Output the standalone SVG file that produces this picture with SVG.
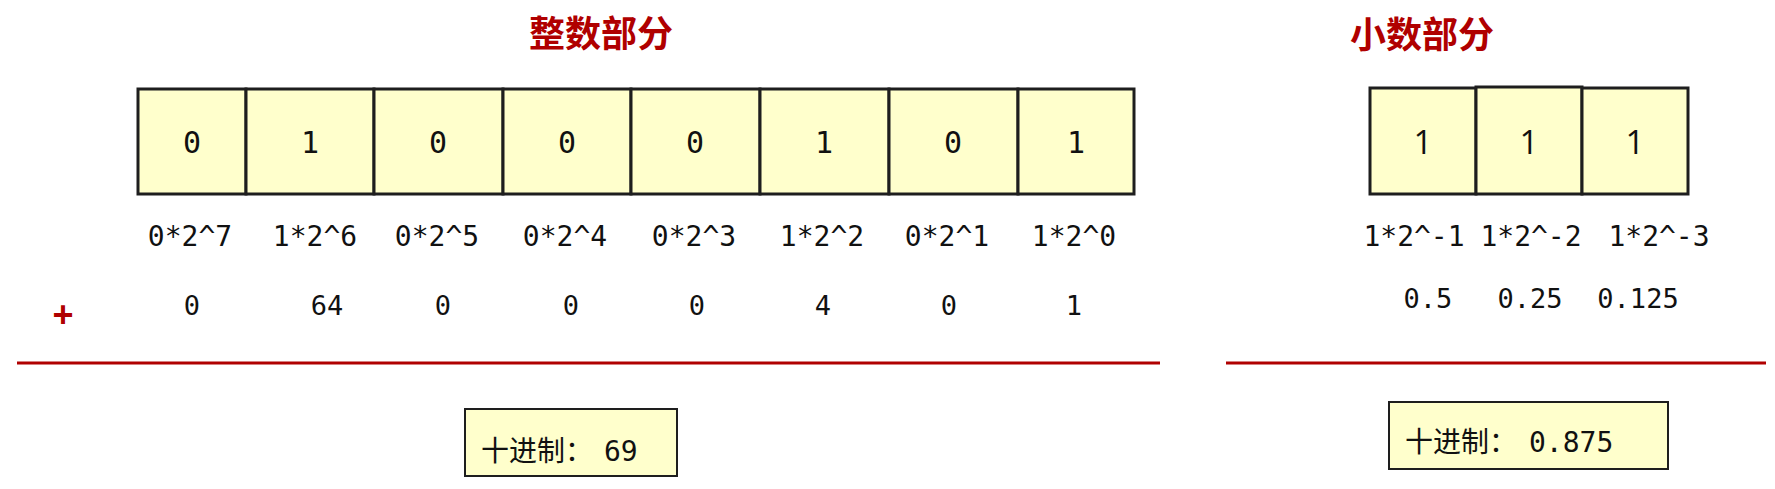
<svg xmlns="http://www.w3.org/2000/svg" width="1775" height="489" viewBox="0 0 1775 489">
<style>
.cell{fill:#FFFFCC;stroke:#1e1e1e;stroke-width:3}
.res{fill:#FFFFCC;stroke:#1e1e1e;stroke-width:2}
.bit{font-family:"DejaVu Sans Mono",monospace;font-size:30px;fill:#111;text-anchor:middle}
.fbit{font-family:"Open Sans","Liberation Sans",sans-serif;font-size:33px;fill:#111;text-anchor:middle}
.lbl{font-family:"DejaVu Sans Mono",monospace;font-size:28px;fill:#111;text-anchor:middle}
.val{font-family:"DejaVu Sans Mono",monospace;font-size:27px;fill:#111;text-anchor:middle}
.title{font-family:"Noto Sans CJK SC",sans-serif;font-size:36px;font-weight:bold;fill:#B00000;text-anchor:middle}
.rtxt{font-family:"DejaVu Sans Mono","Noto Sans CJK SC",monospace;font-size:28px;fill:#111}
.rule{stroke:#B00000;stroke-width:3}
</style>
<rect width="1775" height="489" fill="#fff"/>
<g id="title-int"><text class="title" x="601" y="47">整数部分</text></g>
<g id="title-frac"><text class="title" x="1422" y="48">小数部分</text></g>
<g id="int-cells">
<g id="i7"><rect class="cell" x="138" y="89" width="108" height="105"/><text class="bit" x="192" y="153">0</text></g>
<g id="i6"><rect class="cell" x="246" y="89" width="128" height="105"/><text class="bit" x="310" y="153">1</text></g>
<g id="i5"><rect class="cell" x="374" y="89" width="129" height="105"/><text class="bit" x="438" y="153">0</text></g>
<g id="i4"><rect class="cell" x="503" y="89" width="128" height="105"/><text class="bit" x="567" y="153">0</text></g>
<g id="i3"><rect class="cell" x="631" y="89" width="129" height="105"/><text class="bit" x="695" y="153">0</text></g>
<g id="i2"><rect class="cell" x="760" y="89" width="129" height="105"/><text class="bit" x="824" y="153">1</text></g>
<g id="i1"><rect class="cell" x="889" y="89" width="129" height="105"/><text class="bit" x="953" y="153">0</text></g>
<g id="i0"><rect class="cell" x="1018" y="89" width="116" height="105"/><text class="bit" x="1076" y="153">1</text></g>
</g>
<g id="frac-cells">
<g id="f1"><rect class="cell" x="1370" y="88" width="106" height="106"/><text class="fbit" x="1423" y="154">1</text></g>
<g id="f2"><rect class="cell" x="1476" y="87" width="106" height="107"/><text class="fbit" x="1529" y="154">1</text></g>
<g id="f3"><rect class="cell" x="1582" y="88" width="106" height="106"/><text class="fbit" x="1635" y="154">1</text></g>
</g>
<g id="exp-labels">
<text class="lbl" x="190" y="246">0*2^7</text>
<text class="lbl" x="315" y="246">1*2^6</text>
<text class="lbl" x="437" y="246">0*2^5</text>
<text class="lbl" x="565" y="246">0*2^4</text>
<text class="lbl" x="694" y="246">0*2^3</text>
<text class="lbl" x="822" y="246">1*2^2</text>
<text class="lbl" x="947" y="246">0*2^1</text>
<text class="lbl" x="1074" y="246">1*2^0</text>
<text class="lbl" x="1414" y="246">1*2^-1</text>
<text class="lbl" x="1531" y="246">1*2^-2</text>
<text class="lbl" x="1659" y="246">1*2^-3</text>
</g>
<g id="values">
<text x="63" y="327" font-family="Liberation Sans,sans-serif" font-size="36" font-weight="bold" fill="#B00000" text-anchor="middle">+</text>
<text class="val" x="192" y="315">0</text>
<text class="val" x="327" y="315">64</text>
<text class="val" x="443" y="315">0</text>
<text class="val" x="571" y="315">0</text>
<text class="val" x="697" y="315">0</text>
<text class="val" x="823" y="315">4</text>
<text class="val" x="949" y="315">0</text>
<text class="val" x="1074" y="315">1</text>
<text class="val" x="1428" y="308">0.5</text>
<text class="val" x="1530" y="308">0.25</text>
<text class="val" x="1638" y="308">0.125</text>
</g>
<g id="rules">
<line class="rule" x1="17" y1="363" x2="1160" y2="363"/>
<line class="rule" x1="1226" y1="363" x2="1766" y2="363"/>
</g>
<g id="result-int"><rect class="res" x="465" y="409" width="212" height="67"/><text class="rtxt" x="481" y="461">十进制：<tspan x="604">69</tspan></text></g>
<g id="result-frac"><rect class="res" x="1389" y="402" width="279" height="67"/><text class="rtxt" x="1405" y="452">十进制：<tspan x="1529">0.875</tspan></text></g>
</svg>
